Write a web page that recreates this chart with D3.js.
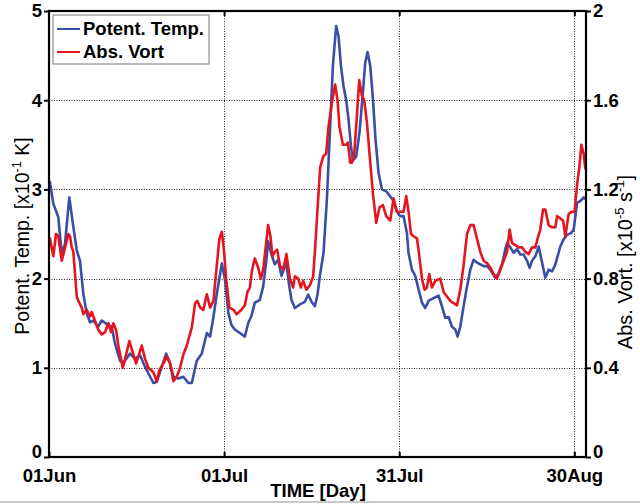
<!DOCTYPE html>
<html>
<head>
<meta charset="utf-8">
<script src="https://cdn.jsdelivr.net/npm/d3@7/dist/d3.min.js"></script>
<style>
  body { margin: 0; background: #fff; }
  svg text { font-family: "Liberation Sans", Arial, sans-serif; }
</style>
</head>
<body>
<svg id="chart" width="640" height="504"></svg>
<script>
// Potential temperature [x10^-1 K], as [day since 01 Jun, value]
const potTemp = [[0,3.05],[0.17,3.08],[0.74,2.84],[1.59,2.69],[2.18,2.28],[2.74,2.39],[3.48,2.91],[4.17,2.58],[4.75,2.32],[5.31,2.2],[5.88,1.83],[6.46,1.61],[7.03,1.51],[7.59,1.53],[8.4,1.46],[9.03,1.53],[9.89,1.49],[10.75,1.46],[11.31,1.27],[12.17,1.08],[12.69,1.05],[13.89,1.16],[14.74,1.1],[15.6,1.14],[16.46,1.01],[17.32,0.9],[17.88,0.83],[18.46,0.84],[19.32,1.01],[20.06,1.16],[20.74,1.05],[21.31,0.9],[22.17,0.88],[23.02,0.9],[23.88,0.83],[24.46,0.83],[25.32,1.08],[26.18,1.16],[27.04,1.39],[27.6,1.35],[28.17,1.57],[28.75,1.83],[29.61,2.17],[30.17,1.98],[30.74,1.61],[31.25,1.48],[31.84,1.43],[32.69,1.39],[33.55,1.35],[34.12,1.5],[34.68,1.58],[35.26,1.73],[36.12,1.76],[36.69,1.91],[37.25,2.21],[37.54,2.42],[38.11,2.27],[38.69,2.16],[39.26,2.21],[39.83,2.03],[40.41,2.14],[40.68,2.17],[41.09,1.95],[41.54,1.76],[42.12,1.67],[42.98,1.71],[43.84,1.74],[44.4,1.82],[44.97,1.74],[45.55,1.69],[46,1.82],[46.41,2.03],[47.03,2.29],[47.61,2.89],[48.17,3.71],[48.64,4.39],[49.2,4.83],[49.6,4.72],[50.01,4.39],[50.45,4.16],[50.92,4.0],[51.31,3.79],[51.72,3.49],[52.07,3.32],[52.63,3.37],[53.2,3.64],[53.78,4.09],[54.17,4.42],[54.57,4.54],[55.03,4.39],[55.5,4.01],[55.94,3.56],[56.45,3.19],[57.04,3.0],[57.77,2.98],[58.46,2.92],[59.03,2.87],[59.6,2.75],[60.17,2.7],[60.74,2.7],[61.32,2.51],[61.59,2.29],[62.18,2.1],[62.75,2.03],[63.31,1.88],[63.9,1.73],[64.46,1.67],[65.03,1.75],[65.88,1.78],[66.74,1.81],[67.32,1.69],[67.89,1.56],[68.46,1.57],[69.04,1.46],[69.6,1.43],[70,1.35],[70.46,1.46],[71.03,1.69],[71.61,1.91],[72.18,2.1],[72.74,2.21],[73.32,2.18],[73.89,2.16],[74.46,2.14],[75.04,2.14],[75.6,2.1],[76.46,2.01],[77.03,2.06],[77.61,2.16],[78.18,2.33],[78.47,2.4],[79.03,2.35],[79.6,2.29],[80.18,2.33],[80.75,2.27],[81.31,2.27],[81.9,2.2],[82.34,2.12],[82.75,2.2],[83.32,2.25],[83.89,2.36],[84.47,2.18],[85.03,2.01],[85.6,2.1],[86.18,2.08],[86.75,2.16],[87.6,2.36],[88.17,2.44],[88.75,2.49],[89.44,2.51],[89.89,2.55],[90.47,2.85],[91.03,2.87],[91.6,2.91],[91.89,2.89]];

// Absolute vorticity [x10^-5 s^-1], as [day since 01 Jun, value]
const absVort = [[0,0.96],[0.17,0.98],[0.74,0.90],[1.2,1.00],[1.59,0.99],[2.18,0.88],[2.57,0.92],[3.31,1.00],[3.6,0.99],[3.89,0.94],[4.17,0.92],[4.75,0.72],[5.02,0.70],[5.61,0.67],[5.88,0.64],[6.46,0.66],[7.03,0.63],[7.32,0.65],[7.89,0.61],[8.45,0.57],[9.03,0.55],[9.6,0.56],[10.17,0.60],[10.63,0.56],[11.02,0.60],[11.49,0.57],[11.88,0.50],[12.64,0.40],[13.03,0.44],[13.77,0.52],[14.45,0.46],[14.92,0.42],[15.31,0.45],[15.89,0.50],[16.46,0.44],[17.02,0.40],[17.88,0.38],[18.46,0.34],[18.91,0.39],[19.6,0.42],[20.18,0.45],[20.74,0.42],[21.31,0.34],[21.89,0.36],[22.46,0.40],[23.02,0.46],[23.61,0.50],[24.46,0.58],[25.03,0.69],[25.42,0.70],[25.89,0.67],[26.45,0.66],[27.04,0.73],[27.6,0.67],[28.17,0.70],[28.75,0.86],[29.2,0.98],[29.61,1.01],[30,0.92],[30.34,0.80],[30.91,0.67],[31.6,0.66],[32.14,0.64],[32.97,0.66],[33.55,0.68],[34,0.74],[34.41,0.76],[34.8,0.84],[35.26,0.89],[35.83,0.85],[36.29,0.80],[36.69,0.84],[37.08,0.93],[37.54,1.04],[37.94,0.99],[38.28,0.90],[38.69,0.92],[39.09,0.93],[39.55,0.86],[40.12,0.84],[40.68,0.91],[41.27,0.80],[41.83,0.76],[42.12,0.81],[42.69,0.80],[43.15,0.76],[43.55,0.79],[44.11,0.75],[44.69,0.77],[45.26,0.81],[45.65,0.96],[46,1.11],[46.46,1.30],[47.03,1.35],[47.49,1.36],[47.88,1.48],[48.47,1.59],[49.03,1.67],[49.43,1.60],[49.77,1.48],[50.35,1.40],[50.92,1.40],[51.21,1.41],[51.6,1.32],[51.9,1.32],[52.29,1.36],[52.75,1.53],[53.15,1.69],[53.61,1.62],[54,1.60],[54.47,1.50],[54.91,1.36],[55.5,1.18],[56.06,1.05],[56.63,1.12],[57.21,1.13],[57.77,1.08],[58.46,1.06],[59.03,1.16],[59.6,1.10],[60.17,1.10],[60.74,1.10],[61.2,1.17],[61.6,1.10],[62.01,1.00],[62.45,0.99],[63.04,0.98],[63.31,0.93],[63.9,0.80],[64.34,0.75],[64.75,0.76],[65.15,0.82],[65.61,0.76],[66.18,0.79],[67.03,0.80],[67.6,0.74],[68.18,0.72],[68.75,0.70],[69.31,0.69],[69.9,0.68],[70.46,0.75],[71.03,0.86],[71.61,1.00],[72.18,1.04],[72.74,1.04],[73.32,0.98],[73.89,0.92],[74.46,0.88],[75.04,0.87],[75.6,0.85],[76.17,0.82],[76.75,0.80],[77.32,0.84],[77.89,0.88],[78.47,0.92],[78.91,1.02],[79.32,0.96],[79.89,0.95],[80.46,0.94],[81.04,0.94],[81.6,0.92],[82.17,0.91],[82.75,0.94],[83.32,0.94],[83.71,0.98],[84.17,1.02],[84.64,1.11],[85.03,1.11],[85.6,1.04],[86.18,1.03],[86.75,1.03],[87.04,1.08],[87.6,1.07],[88.07,1.06],[88.46,0.99],[89.03,1.09],[89.6,1.10],[90.05,1.10],[90.47,1.22],[90.86,1.30],[91.2,1.40],[91.6,1.36],[91.89,1.29]];

const startDate = "2010-06-01";
const endDate = "2010-09-01";
const dateTicks = ["2010-06-01", "2010-07-01", "2010-07-31", "2010-08-30"];
const leftTicks = [0, 1, 2, 3, 4, 5];
const rightTicks = [0, 0.4, 0.8, 1.2, 1.6, 2];
const seriesNames = ["Potent. Temp.", "Abs. Vort"];
const seriesColors = ["#3a4ea6", "#e5141f"];

const svg = d3.select("#chart");
const L = 49, R = 586, T = 11, B = 457;
const DAY = 86400000;
const t0 = d3.utcParse("%Y-%m-%d")(startDate);
const toDate = d => new Date(t0.getTime() + d * DAY);

const x = d3.scaleUtc().domain([t0, d3.utcParse("%Y-%m-%d")(endDate)]).range([L, R]);
const yL = d3.scaleLinear().domain([0, 5]).range([B, T]);
const yR = d3.scaleLinear().domain([0, 2]).range([B, T]);
const tickDates = dateTicks.map(d3.utcParse("%Y-%m-%d"));

// dotted grid
const grid = svg.append("g").attr("stroke", "#000").attr("stroke-width", 1)
  .attr("stroke-dasharray", "1,1.5").attr("opacity", 0.85);
grid.selectAll("line.v").data(tickDates.slice(1)).join("line")
  .attr("x1", d => Math.round(x(d)) + 0.5).attr("x2", d => Math.round(x(d)) + 0.5)
  .attr("y1", T).attr("y2", B);
grid.selectAll("line.h").data(leftTicks.slice(1, -1)).join("line")
  .attr("x1", L).attr("x2", R)
  .attr("y1", d => Math.round(yL(d)) + 0.5).attr("y2", d => Math.round(yL(d)) + 0.5);

// series
svg.append("clipPath").attr("id", "plotclip").append("rect")
  .attr("x", L).attr("y", T).attr("width", R - L).attr("height", B - T);
const plot = svg.append("g").attr("clip-path", "url(#plotclip)");
const lineL = d3.line().x(d => x(toDate(d[0]))).y(d => yL(d[1]));
const lineR = d3.line().x(d => x(toDate(d[0]))).y(d => yR(d[1]));
plot.append("path").datum(potTemp).attr("d", lineL)
  .attr("fill", "none").attr("stroke", seriesColors[0]).attr("stroke-width", 2.6)
  .attr("stroke-linejoin", "round");
plot.append("path").datum(absVort).attr("d", lineR)
  .attr("fill", "none").attr("stroke", seriesColors[1]).attr("stroke-width", 2.6)
  .attr("stroke-linejoin", "round");

// axes
const fmt = d3.utcFormat("%d%b");
const styleAxis = g => {
  g.select(".domain").remove();
  g.selectAll(".tick line").attr("stroke", "#000").attr("stroke-width", 2);
  g.selectAll(".tick text").attr("fill", "#000")
    .style("font-family", "'Liberation Sans', Arial, sans-serif")
    .style("font-weight", "bold").style("font-size", "18.5px");
};
// the zero labels sit just above the date labels
const liftZero = g => g.selectAll(".tick text").filter(d => d === 0).attr("dy", "0.02em");

svg.append("g").attr("transform", `translate(0,${B})`)
  .call(d3.axisBottom(x).tickValues(tickDates).tickFormat(fmt).tickSizeInner(-5).tickSizeOuter(0).tickPadding(12))
  .call(styleAxis);
svg.append("g").attr("transform", `translate(0,${T})`)
  .call(d3.axisTop(x).tickValues(tickDates.slice(1)).tickFormat("").tickSizeInner(-5).tickSizeOuter(0))
  .call(styleAxis);
svg.append("g").attr("transform", `translate(${L},0)`)
  .call(d3.axisLeft(yL).tickValues(leftTicks).tickFormat(d3.format("d")).tickSizeInner(5).tickSizeOuter(0).tickPadding(2))
  .call(styleAxis).call(liftZero);
svg.append("g").attr("transform", `translate(${R},0)`)
  .call(d3.axisRight(yR).tickValues(rightTicks).tickFormat(d => d3.format("")(d)).tickSizeInner(5).tickSizeOuter(0).tickPadding(2))
  .call(styleAxis).call(liftZero);

// frame
svg.append("rect").attr("x", L).attr("y", T).attr("width", R - L).attr("height", B - T)
  .attr("fill", "none").attr("stroke", "#000").attr("stroke-width", 2.2);

// axis titles
const title = (tx, ty, rot, parts, weight, size) => {
  const t = svg.append("text").attr("transform", `translate(${tx},${ty}) rotate(${rot})`)
    .attr("text-anchor", "middle").attr("fill", "#000")
    .style("font-size", size + "px").style("font-weight", weight);
  parts.forEach(p => {
    const s = t.append("tspan").text(p.t);
    if (p.sup) s.style("font-size", (size * 0.65) + "px").attr("dy", -size * 0.4);
    if (p.down) s.attr("dy", size * 0.4);
  });
};
title(318, 497, 0, [{ t: "TIME [Day]" }], "bold", 18.5);
title(29, 236, -90, [{ t: "Potent. Temp. [x10" }, { t: "-1", sup: true }, { t: " K]", down: true }], "normal", 19.5);
title(632, 262, -90, [{ t: "Abs. Vort. [x10" }, { t: "-5", sup: true }, { t: " s", down: true }, { t: "-1", sup: true }, { t: "]", down: true }], "normal", 20);

// legend
const lg = svg.append("g");
lg.append("rect").attr("x", 53).attr("y", 15).attr("width", 156).attr("height", 49)
  .attr("fill", "#fff").attr("stroke", "#777").attr("stroke-width", 1);
seriesNames.forEach((n, i) => {
  const yy = 29 + i * 23;
  lg.append("line").attr("x1", 57).attr("x2", 80).attr("y1", yy).attr("y2", yy)
    .attr("stroke", seriesColors[i]).attr("stroke-width", 2);
  lg.append("text").attr("x", 83).attr("y", yy + 6).text(n)
    .style("font-size", "18.5px").style("font-weight", "bold").attr("fill", "#000");
});

// bottom rule of the page
svg.append("line").attr("x1", 0).attr("x2", 640).attr("y1", 502).attr("y2", 502)
  .attr("stroke", "#c8c8c8").attr("stroke-width", 2);
</script>
</body>
</html>
